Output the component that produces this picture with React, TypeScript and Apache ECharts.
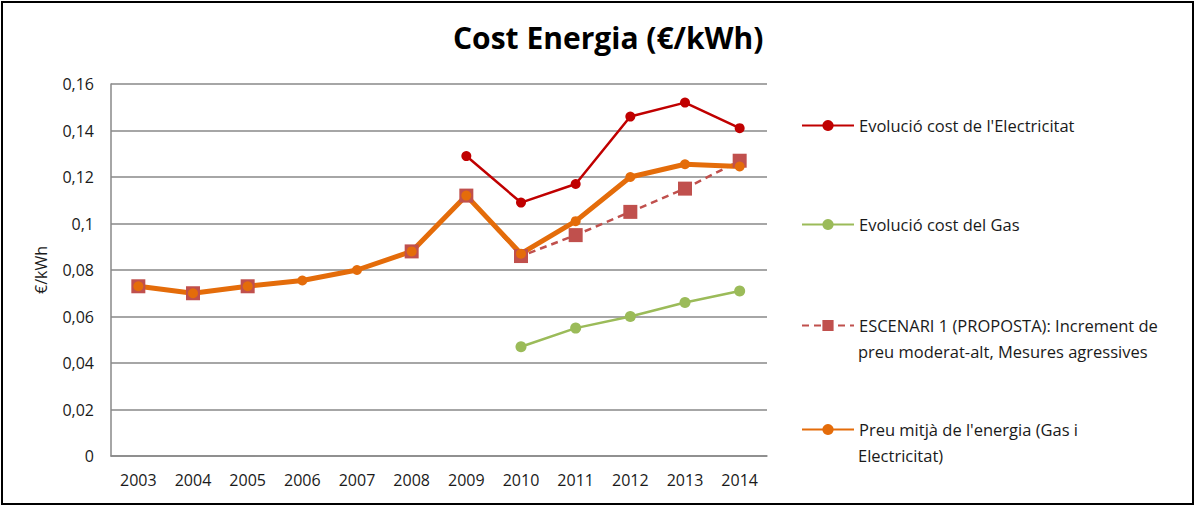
import React, { useEffect, useRef } from "react";
import * as echarts from "echarts";

const years = ["2003", "2004", "2005", "2006", "2007", "2008", "2009", "2010", "2011", "2012", "2013", "2014"];
const electricitat = [null, null, null, null, null, null, 0.129, 0.109, 0.117, 0.146, 0.152, 0.141];
const gas = [null, null, null, null, null, null, null, 0.047, 0.055, 0.060, 0.066, 0.071];
const escenari1 = [0.073, 0.070, 0.073, null, null, 0.088, 0.112, 0.086, 0.095, 0.105, 0.115, 0.127];
const preuMitja = [0.073, 0.070, 0.073, 0.0755, 0.080, 0.088, 0.112, 0.087, 0.101, 0.120, 0.1255, 0.1245];
const yTicks = { min: 0, max: 0.16, interval: 0.02 };

const names = [
  "Evolució cost de l'Electricitat",
  "Evolució cost del Gas",
  "ESCENARI 1 (PROPOSTA): Increment de",
  "Preu mitjà de l'energia (Gas i",
];
const secondLines = ["", "", "preu moderat-alt, Mesures agressives", "Electricitat)"];

const FONT = "Open Sans";

export default function App() {
  const ref = useRef<HTMLDivElement>(null);
  useEffect(() => {
    document.body.style.margin = "0";
    const chart = echarts.init(ref.current!, null, { renderer: "svg" });
    const legendTops = [117, 216, 317, 421];
    const textStyle = { fontFamily: FONT, fontSize: 16.5, color: "#1a1a1a" };
    chart.setOption({
      animation: false,
      title: {
        text: "Cost Energia (€/kWh)",
        left: 448,
        top: 17,
        textStyle: { fontFamily: FONT, fontSize: 30, fontWeight: "bold", color: "#000" },
      },
      legend: names.map((n, i) => ({
        data: [n],
        left: 801,
        top: legendTops[i],
        orient: "vertical",
        itemWidth: 52,
        itemHeight: 14,
        padding: 0,
        textStyle,
        selectedMode: false,
      })),
      graphic: secondLines
        .map((t, i) =>
          t
            ? {
                type: "text",
                left: 858,
                top: legendTops[i] + 26,
                style: { text: t, font: `16.5px "${FONT}"`, fill: "#1a1a1a" },
              }
            : null
        )
        .filter(Boolean),
      grid: { left: 111, top: 84, right: 431, bottom: 52 },
      xAxis: {
        type: "category",
        data: years,
        boundaryGap: true,
        axisLine: { lineStyle: { color: "#888", width: 1.5 } },
        axisTick: { show: false },
        axisLabel: { fontFamily: FONT, fontSize: 16, color: "#1a1a1a", margin: 16 },
      },
      yAxis: {
        type: "value",
        min: yTicks.min,
        max: yTicks.max,
        interval: yTicks.interval,
        name: "€/kWh",
        nameLocation: "middle",
        nameGap: 62,
        nameTextStyle: { fontFamily: FONT, fontSize: 16, color: "#1a1a1a" },
        axisLine: { show: true, lineStyle: { color: "#888", width: 1.5 } },
        axisTick: { show: false },
        splitLine: { lineStyle: { color: "#888", width: 1.5 } },
        axisLabel: {
          fontFamily: FONT,
          fontSize: 16,
          color: "#1a1a1a",
          margin: 17,
          formatter: (v: number) => (v === 0 ? "0" : String(Math.round(v * 100) / 100).replace(".", ",")),
        },
      },
      series: [
        {
          name: names[0],
          type: "line",
          data: electricitat,
          color: "#C00000",
          lineStyle: { width: 2.5, color: "#C00000" },
          symbol: "circle",
          symbolSize: 10,
          itemStyle: { color: "#C00000" },
        },
        {
          name: names[1],
          type: "line",
          data: gas,
          color: "#9BBB59",
          lineStyle: { width: 2.5, color: "#9BBB59" },
          symbol: "circle",
          symbolSize: 11,
          itemStyle: { color: "#9BBB59" },
        },
        {
          name: names[2],
          type: "line",
          data: escenari1,
          color: "#C0504D",
          lineStyle: { width: 2.5, color: "#C0504D", type: [7, 5] },
          symbol: "rect",
          symbolSize: 14,
          itemStyle: { color: "#C0504D" },
        },
        {
          name: names[3],
          type: "line",
          data: preuMitja,
          color: "#E46C0A",
          lineStyle: { width: 5, color: "#E46C0A" },
          symbol: "circle",
          symbolSize: 10,
          itemStyle: { color: "#E46C0A" },
        },
      ],
    });
    return () => chart.dispose();
  }, []);
  return (
    <div style={{ position: "relative", width: 1198, height: 508 }}>
      <div ref={ref} style={{ width: 1198, height: 508 }} />
      <div
        style={{
          position: "absolute",
          left: 1,
          top: 1,
          width: 1193,
          height: 504,
          border: "2px solid #000",
          boxSizing: "border-box",
          pointerEvents: "none",
        }}
      />
    </div>
  );
}
